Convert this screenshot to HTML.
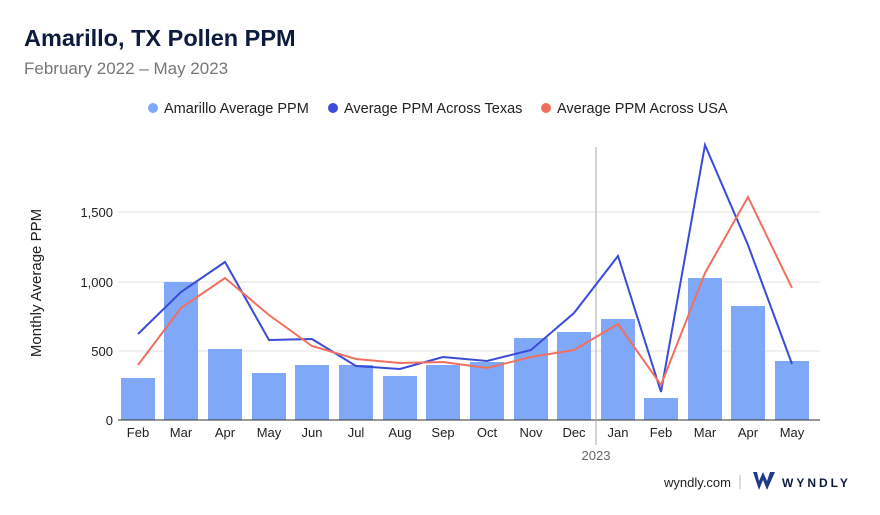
<!DOCTYPE html>
<html><head><meta charset="utf-8"><style>
body{margin:0;background:#fff;font-family:"Liberation Sans",sans-serif;}
</style></head><body>
<svg width="880" height="510" xmlns="http://www.w3.org/2000/svg" font-family="Liberation Sans, sans-serif">
<rect width="880" height="510" fill="#fff"/>
<text x="24" y="46" font-size="23.5" font-weight="bold" fill="#0d1b3e">Amarillo, TX Pollen PPM</text>
<text x="24" y="74" font-size="17" fill="#777">February 2022 – May 2023</text>
<g font-size="14.5" fill="#222">
<circle cx="153" cy="108" r="5" fill="#7fa8f8"/><text x="164" y="113">Amarillo Average PPM</text>
<circle cx="333" cy="108" r="5" fill="#3b4bd8"/><text x="344" y="113">Average PPM Across Texas</text>
<circle cx="546" cy="108" r="5" fill="#f07060"/><text x="557" y="113">Average PPM Across USA</text>
</g>
<text transform="translate(41,283) rotate(-90)" font-size="15" fill="#222" text-anchor="middle">Monthly Average PPM</text>
<g stroke="#e2e2e2" stroke-width="1">
<line x1="118" y1="212" x2="820" y2="212"/><line x1="118" y1="282" x2="820" y2="282"/><line x1="118" y1="351" x2="820" y2="351"/>
</g>
<g font-size="13" fill="#222" text-anchor="end">
<text x="113" y="217">1,500</text><text x="113" y="287">1,000</text><text x="113" y="356">500</text><text x="113" y="425">0</text>
</g>
<g fill="#7fa8f8">
<rect x="121" y="378" width="34" height="42"/><rect x="164" y="282" width="34" height="138"/><rect x="208" y="349" width="34" height="71"/><rect x="252" y="373" width="34" height="47"/><rect x="295" y="365" width="34" height="55"/><rect x="339" y="365" width="34" height="55"/><rect x="383" y="376" width="34" height="44"/><rect x="426" y="365" width="34" height="55"/><rect x="470" y="362" width="34" height="58"/><rect x="514" y="338" width="34" height="82"/><rect x="557" y="332" width="34" height="88"/><rect x="601" y="319" width="34" height="101"/><rect x="644" y="398" width="34" height="22"/><rect x="688" y="278" width="34" height="142"/><rect x="731" y="306" width="34" height="114"/><rect x="775" y="361" width="34" height="59"/>
</g>
<line x1="118" y1="420" x2="820" y2="420" stroke="#333" stroke-width="1"/>
<line x1="596" y1="147" x2="596" y2="445" stroke="#aaa" stroke-width="1"/>
<polyline fill="none" stroke="#3b4bd8" stroke-width="2" points="138,334 181,292 225,262 269,340 312,339 356,366 400,369 443,357 487,361 531,350 574,313 618,256 661,392 705,145 748,245 792,364"/>
<polyline fill="none" stroke="#f07060" stroke-width="2" points="138,365 181,308 225,278 269,315 312,346 356,359 400,363 443,362 487,368 531,357 574,350 618,324 661,385 705,273 748,197 792,288"/>
<g font-size="13" fill="#222" text-anchor="middle">
<text x="138" y="437">Feb</text><text x="181" y="437">Mar</text><text x="225" y="437">Apr</text><text x="269" y="437">May</text><text x="312" y="437">Jun</text><text x="356" y="437">Jul</text><text x="400" y="437">Aug</text><text x="443" y="437">Sep</text><text x="487" y="437">Oct</text><text x="531" y="437">Nov</text><text x="574" y="437">Dec</text><text x="618" y="437">Jan</text><text x="661" y="437">Feb</text><text x="705" y="437">Mar</text><text x="748" y="437">Apr</text><text x="792" y="437">May</text>
<text x="596" y="460" fill="#666">2023</text>
</g>
<text x="731" y="487" font-size="13" fill="#222" text-anchor="end">wyndly.com</text>
<line x1="740" y1="475" x2="740" y2="489" stroke="#bbb"/>
<path d="M753 472 L759 490 L763 480 L767 490 L775 472 L770 472 L767 481 L763 472 L759 481 L757 472 Z" fill="#1f3a8a"/>
<text x="782" y="487" font-size="12" font-weight="bold" fill="#0d1b3e" letter-spacing="3">WYNDLY</text>
</svg>
</body></html>
